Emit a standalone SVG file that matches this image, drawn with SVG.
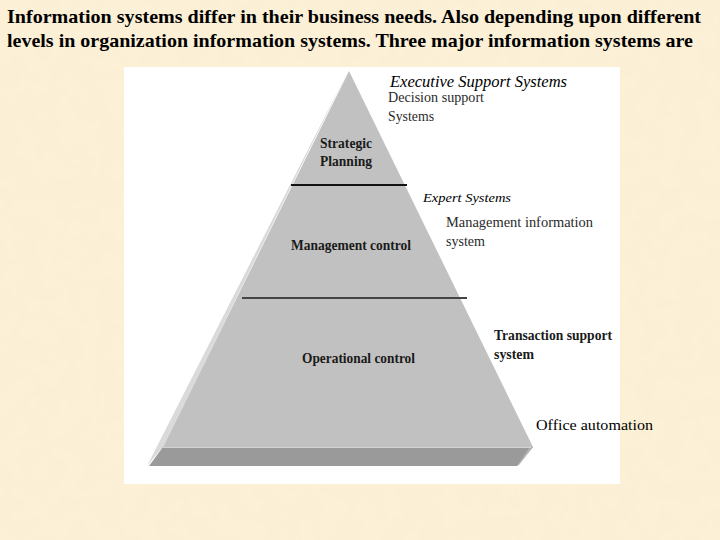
<svg xmlns="http://www.w3.org/2000/svg" width="720" height="540" viewBox="0 0 720 540">
<defs>
<style>
.title{font-family:"Liberation Serif","Times New Roman",serif;font-weight:bold;font-size:19px;fill:#000}
.in{font-family:"Liberation Serif","Times New Roman",serif;font-weight:bold;font-size:15px;fill:#1a1a1a}
.side{font-family:"Liberation Serif","Times New Roman",serif;font-size:15px;fill:#2a2a2a}
.sideb{font-family:"Liberation Serif","Times New Roman",serif;font-weight:bold;font-size:15px;fill:#1a1a1a}
.it{font-family:"Liberation Serif","Times New Roman",serif;font-style:italic;fill:#000}
.oa{font-family:"Liberation Serif","Times New Roman",serif;font-size:15px;fill:#000}
</style>
<filter id="tex" x="0" y="0" width="100%" height="100%">
<feTurbulence type="fractalNoise" baseFrequency="0.05" numOctaves="3" seed="4" result="n"/>
<feColorMatrix in="n" type="matrix" values="0 0 0 0 0.95  0 0 0 0 0.85  0 0 0 0 0.66  0 0 0 0.5 -0.12" result="c"/>
<feComposite in="c" in2="SourceGraphic" operator="over"/>
</filter>
</defs>
<rect width="720" height="540" fill="#fcf0d6"/>
<rect width="720" height="540" fill="#fcf0d6" filter="url(#tex)"/>
<g id="title">
<text class="title" x="7" y="23" textLength="694" lengthAdjust="spacingAndGlyphs">Information systems differ in their business needs. Also depending upon different</text>
<text class="title" x="7" y="47" textLength="686" lengthAdjust="spacingAndGlyphs">levels in organization information systems. Three major information systems are</text>
</g>
<rect id="panel" x="124" y="67" width="496" height="417" fill="#ffffff"/>
<g id="pyramid">
<polygon points="348,71 147,466 163,447" fill="#dadada"/>
<polygon points="349,71 533,447 163,447" fill="#c1c1c1"/>
<polygon points="163,447 533,447 517,466 149,466" fill="#9a9a9a"/>
<polygon points="530,447 533,447 519,465 517,466" fill="#b5b5b5"/>
<line x1="163" y1="447.5" x2="531" y2="447.5" stroke="#d4d4d4" stroke-width="1"/>
</g>
<g id="connectors">
<line x1="291" y1="185" x2="407" y2="185" stroke="#111" stroke-width="2"/>
<line x1="242" y1="298" x2="467" y2="298" stroke="#444" stroke-width="2"/>
</g>
<g id="strategic">
<text class="in" x="320" y="148" textLength="52" lengthAdjust="spacingAndGlyphs">Strategic</text>
<text class="in" x="320" y="166" textLength="52" lengthAdjust="spacingAndGlyphs">Planning</text>
</g>
<g id="management">
<text class="in" x="291" y="250" textLength="120" lengthAdjust="spacingAndGlyphs">Management control</text>
</g>
<g id="operational">
<text class="in" x="302" y="363" textLength="113" lengthAdjust="spacingAndGlyphs">Operational control</text>
</g>
<g id="ess">
<text class="it" x="390" y="87" font-size="16" textLength="177" lengthAdjust="spacingAndGlyphs">Executive Support Systems</text>
</g>
<g id="dss">
<text class="side" x="388" y="102" textLength="96" lengthAdjust="spacingAndGlyphs">Decision support</text>
<text class="side" x="388" y="121" textLength="46" lengthAdjust="spacingAndGlyphs">Systems</text>
</g>
<g id="expert">
<text class="it" x="423" y="202" font-size="13" textLength="88" lengthAdjust="spacingAndGlyphs">Expert Systems</text>
</g>
<g id="mis">
<text class="side" x="446" y="227" textLength="147" lengthAdjust="spacingAndGlyphs">Management information</text>
<text class="side" x="446" y="246" textLength="39" lengthAdjust="spacingAndGlyphs">system</text>
</g>
<g id="tps">
<text class="sideb" x="494" y="340" textLength="118" lengthAdjust="spacingAndGlyphs">Transaction support</text>
<text class="sideb" x="494" y="359" textLength="40" lengthAdjust="spacingAndGlyphs">system</text>
</g>
<g id="office">
<text class="oa" x="536" y="430" textLength="117" lengthAdjust="spacingAndGlyphs">Office automation</text>
</g>
</svg>
